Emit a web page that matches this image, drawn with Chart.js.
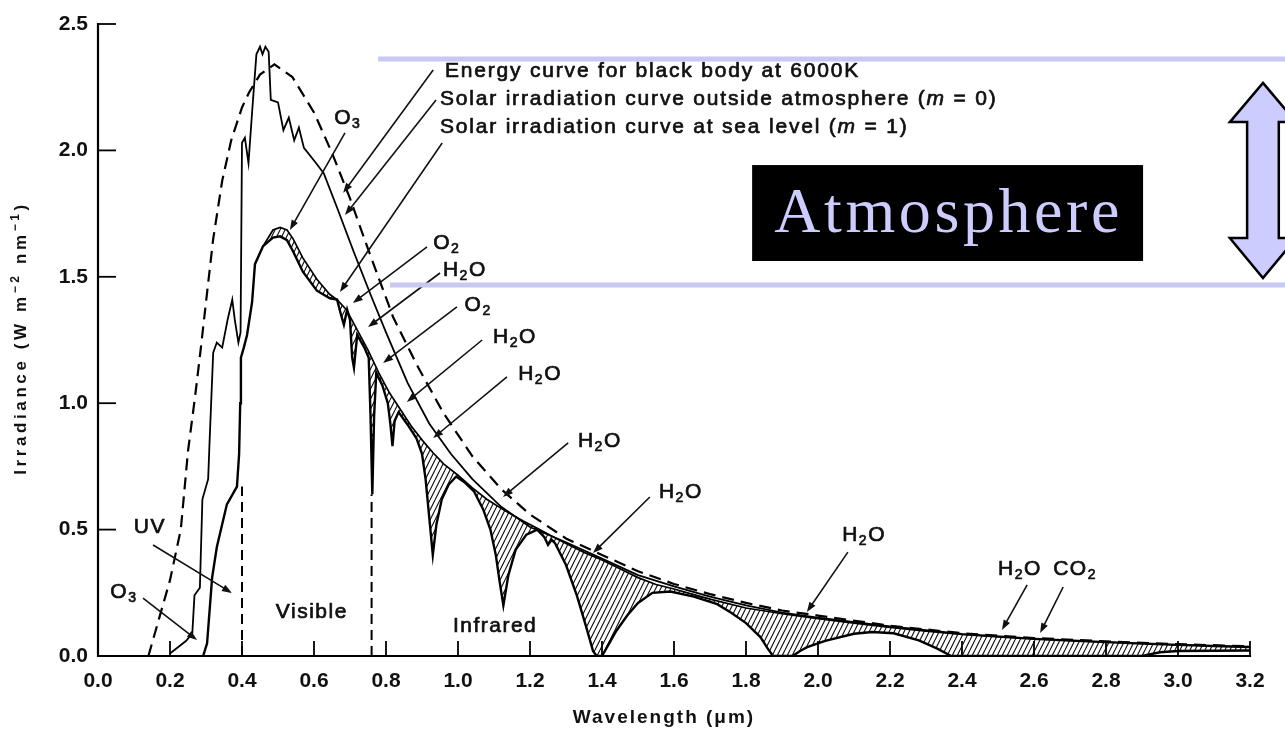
<!DOCTYPE html>
<html><head><meta charset="utf-8">
<script src="https://cdn.jsdelivr.net/npm/chart.js@4.4.1/dist/chart.umd.min.js"></script>
<style>html,body{margin:0;padding:0;background:#fff;}canvas{display:block;}</style>
</head><body>
<canvas id="c" width="1285" height="733"></canvas>
<script>
// ---------------- data ----------------
const blackBodyX = [0.14,0.17,0.20,0.23,0.25,0.27,0.285,0.30,0.32,0.345,0.37,0.40,0.42,0.45,0.49,0.54,0.60,0.65,0.70,0.75,0.82,0.89,0.96,1.04,1.12,1.20,1.30,1.40,1.50,1.60,1.70,1.80,1.90,2.00,2.20,2.40,2.60,2.80,3.00,3.20];
const blackBodyY = [0.00,0.15,0.30,0.50,0.81,1.03,1.21,1.40,1.65,1.88,2.04,2.17,2.23,2.30,2.34,2.29,2.15,1.99,1.81,1.61,1.34,1.14,0.96,0.79,0.66,0.56,0.465,0.40,0.335,0.285,0.245,0.21,0.18,0.16,0.12,0.09,0.071,0.058,0.047,0.038];

const outsideX = [0.20,0.245,0.262,0.268,0.283,0.29,0.30,0.306,0.31,0.32,0.33,0.345,0.36,0.373,0.38,0.39,0.396,0.40,0.408,0.418,0.428,0.44,0.45,0.457,0.465,0.474,0.48,0.50,0.515,0.53,0.545,0.558,0.572,0.60,0.627,0.665,0.71,0.757,0.80,0.86,0.92,0.98,1.04,1.12,1.20,1.30,1.40,1.50,1.60,1.70,1.80,1.90,2.00,2.20,2.40,2.60,2.80,3.00,3.20];
const outsideY = [0.01,0.06,0.09,0.24,0.27,0.62,0.67,0.70,0.85,1.20,1.24,1.22,1.33,1.41,1.33,1.24,1.28,2.03,2.05,1.95,2.15,2.38,2.41,2.38,2.41,2.39,2.20,2.19,2.08,2.13,2.04,2.09,2.01,1.96,1.91,1.77,1.60,1.43,1.28,1.08,0.92,0.80,0.70,0.59,0.51,0.45,0.385,0.32,0.275,0.235,0.20,0.172,0.152,0.117,0.087,0.069,0.056,0.045,0.037];

const seaLevelX = [0.292,0.303,0.317,0.33,0.358,0.386,0.392,0.395,0.397,0.405,0.414,0.428,0.436,0.458,0.486,0.506,0.525,0.542,0.569,0.608,0.644,0.664,0.675,0.683,0.692,0.70,0.706,0.711,0.72,0.74,0.752,0.757,0.762,0.767,0.773,0.79,0.805,0.812,0.818,0.824,0.835,0.86,0.885,0.90,0.91,0.92,0.93,0.94,0.955,0.975,0.995,1.02,1.045,1.07,1.09,1.105,1.115,1.126,1.14,1.16,1.19,1.22,1.24,1.25,1.26,1.27,1.30,1.33,1.355,1.375,1.385,1.40,1.42,1.44,1.47,1.50,1.54,1.59,1.655,1.72,1.76,1.80,1.84,1.86,1.875,1.93,1.95,1.97,2.02,2.10,2.15,2.21,2.28,2.33,2.37,2.90,2.95,3.00,3.20];
const seaLevelY = [0,0.05,0.31,0.43,0.60,0.67,0.80,1.0,1.18,1.22,1.27,1.40,1.55,1.62,1.655,1.66,1.645,1.60,1.52,1.445,1.415,1.41,1.35,1.31,1.37,1.33,1.18,1.14,1.27,1.22,1.18,0.95,0.64,0.95,1.12,1.07,1.00,0.92,0.83,0.93,0.965,0.915,0.86,0.80,0.70,0.55,0.40,0.52,0.62,0.68,0.71,0.685,0.65,0.58,0.50,0.40,0.30,0.20,0.32,0.42,0.48,0.50,0.47,0.44,0.46,0.445,0.36,0.24,0.12,0.02,0,0,0.05,0.10,0.16,0.21,0.25,0.255,0.235,0.205,0.17,0.13,0.075,0.03,0,0,0.02,0.035,0.06,0.088,0.095,0.09,0.062,0.03,0,0,0.015,0.02,0.022];

// sea-level curve without gas absorption (upper edge of the hatched absorption bands)
const clearSkyX = [0.458,0.486,0.506,0.525,0.542,0.569,0.608,0.644,0.664,0.69,0.72,0.75,0.78,0.81,0.84,0.87,0.90,0.93,0.96,1.00,1.04,1.08,1.13,1.18,1.22,1.26,1.30,1.35,1.40,1.45,1.50,1.55,1.60,1.65,1.70,1.80,1.90,2.00,2.10,2.20,2.30,2.40,2.50,2.60,2.70,2.80,2.90,3.00,3.10,3.20];
const clearSkyY = [1.62,1.685,1.695,1.685,1.65,1.575,1.49,1.43,1.41,1.37,1.29,1.21,1.12,1.04,0.975,0.91,0.855,0.805,0.76,0.715,0.665,0.62,0.575,0.535,0.505,0.475,0.445,0.41,0.38,0.345,0.31,0.283,0.265,0.245,0.225,0.19,0.167,0.148,0.13,0.113,0.098,0.085,0.076,0.067,0.06,0.054,0.048,0.043,0.038,0.034];

const bandEdgeX = [0.40, 0.76];
const bandEdgeTop = [0.67, 0.64];

const xTickValues = [0,0.2,0.4,0.6,0.8,1.0,1.2,1.4,1.6,1.8,2.0,2.2,2.4,2.6,2.8,3.0,3.2];
const xTickLabels = ['0.0','0.2','0.4','0.6','0.8','1.0','1.2','1.4','1.6','1.8','2.0','2.2','2.4','2.6','2.8','3.0','3.2'];
const yTickValues = [0,0.5,1.0,1.5,2.0,2.5];
const yTickLabels = ['0.0','0.5','1.0','1.5','2.0','2.5'];

const xTitle = 'Wavelength (\u03bcm)';
const yTitle = 'Irradiance (W m^{\u22122} nm^{\u22121})';

// annotation texts (data coordinates) and leader arrows [fromX, fromY, toX, toY]
const noteLabels = [
  {t:'Energy curve for black body at 6000K', x:0.964, y:2.314, a:'left', ls:1.8},
  {t:'Solar irradiation curve outside atmosphere (|m| = 0)', x:0.950, y:2.203, a:'left', ls:1.8},
  {t:'Solar irradiation curve at sea level (|m| = 1)', x:0.950, y:2.092, a:'left', ls:1.8},
  {t:'O_3', x:0.694, y:2.128},
  {t:'O_2', x:0.969, y:1.634},
  {t:'H_2O', x:1.019, y:1.527},
  {t:'O_2', x:1.056, y:1.388},
  {t:'H_2O', x:1.158, y:1.262},
  {t:'H_2O', x:1.228, y:1.116},
  {t:'H_2O', x:1.394, y:0.850},
  {t:'H_2O', x:1.619, y:0.649},
  {t:'H_2O', x:2.128, y:0.479},
  {t:'H_2O', x:2.561, y:0.344},
  {t:'CO_2', x:2.714, y:0.344},
  {t:'UV', x:0.144, y:0.510},
  {t:'O_3', x:0.072, y:0.253},
  {t:'Visible', x:0.594, y:0.174},
  {t:'Infrared', x:1.103, y:0.119}
];
const noteLeaders = [
  [0.931,2.318,0.681,1.832],
  [0.939,2.199,0.686,1.744],
  [0.956,2.029,0.672,1.440],
  [0.686,2.069,0.533,1.685],
  [0.914,1.618,0.708,1.396],
  [0.950,1.515,0.750,1.301],
  [0.997,1.381,0.792,1.159],
  [1.067,1.250,0.858,1.005],
  [1.136,1.104,0.931,0.862],
  [1.306,0.843,1.125,0.629],
  [1.533,0.629,1.375,0.407],
  [2.083,0.411,1.969,0.174],
  [2.581,0.281,2.511,0.103],
  [2.681,0.273,2.617,0.091],
  [0.153,0.439,0.372,0.249],
  [0.125,0.229,0.275,0.063]
];
const atmosphere = {
  text:'Atmosphere',
  topY:2.362, topX0:0.778, botY:1.468, botX0:0.811, x1:3.45,
  box:[1.817,1.942,2.903,1.5625],
  arrow:{cx:3.236, tipTop:2.267, baseTop:2.112, baseBot:1.653, tipBot:1.495, hw:0.092, sw:0.044}
};

// ---------------- helpers ----------------
const SANS = "'Liberation Sans', Arial, sans-serif";
const canvas = document.getElementById('c');
const ctx0 = canvas.getContext('2d');
function makeHatch(){
  const t = document.createElement('canvas'); t.width = 5; t.height = 10;
  const g = t.getContext('2d');
  g.strokeStyle = '#111'; g.lineWidth = 1.15; g.beginPath();
  for (let k = -1; k <= 1; k++){ g.moveTo(5*k, 10); g.lineTo(5*k+5, 0); }
  g.stroke();
  return ctx0.createPattern(t, 'repeat');
}
const hatch = makeHatch();
const pts = (xs, ys) => xs.map((x, i) => ({x, y: ys[i]}));

function parseRich(s){
  const segs = []; let buf = '', i = 0;
  const flush = () => { if (buf) segs.push({t:buf, k:'n'}); buf = ''; };
  while (i < s.length){
    const c = s[i];
    if (c === '_'){ flush(); segs.push({t:s[i+1], k:'sub'}); i += 2; }
    else if (c === '^'){ flush(); const j = s.indexOf('}', i); segs.push({t:s.slice(i+2, j), k:'sup'}); i = j+1; }
    else if (c === '|'){ flush(); const j = s.indexOf('|', i+1); segs.push({t:s.slice(i+1, j), k:'it'}); i = j+1; }
    else { buf += c; i++; }
  }
  flush(); return segs;
}
function segFont(k, o){
  const w = o.weight || 'normal';
  if (k === 'sub' || k === 'sup') return `${w} ${Math.round(o.size*0.68)}px ${o.family}`;
  if (k === 'it') return `italic ${w} ${o.size}px ${o.family}`;
  return `${w} ${o.size}px ${o.family}`;
}
function drawRich(ctx, s, x, y, o){
  const segs = parseRich(s);
  ctx.save();
  try { ctx.letterSpacing = (o.ls || 0) + 'px'; } catch(e){}
  ctx.fillStyle = o.color || '#111';
  ctx.strokeStyle = o.color || '#111';
  ctx.lineWidth = o.embolden || 0;
  ctx.lineJoin = 'round';
  ctx.textBaseline = 'middle'; ctx.textAlign = 'left';
  let w = 0;
  segs.forEach(g => { ctx.font = segFont(g.k, o); g.w = ctx.measureText(g.t).width; w += g.w; });
  let cx = o.align === 'center' ? x - w/2 : x;
  segs.forEach(g => {
    ctx.font = segFont(g.k, o);
    const dy = g.k === 'sub' ? o.size*0.3 : (g.k === 'sup' ? -o.size*0.33 : 0);
    ctx.fillText(g.t, cx, y + dy);
    if (o.embolden) ctx.strokeText(g.t, cx, y + dy);
    cx += g.w;
  });
  ctx.restore();
}
function arrow(ctx, x1, y1, x2, y2){
  const a = Math.atan2(y2-y1, x2-x1), L = 10, W = 3.6;
  ctx.beginPath(); ctx.moveTo(x1, y1); ctx.lineTo(x2 - Math.cos(a)*L*0.6, y2 - Math.sin(a)*L*0.6); ctx.stroke();
  ctx.beginPath();
  ctx.moveTo(x2, y2);
  ctx.lineTo(x2 - Math.cos(a)*L - Math.sin(a)*W, y2 - Math.sin(a)*L + Math.cos(a)*W);
  ctx.lineTo(x2 - Math.cos(a)*L + Math.sin(a)*W, y2 - Math.sin(a)*L - Math.cos(a)*W);
  ctx.closePath(); ctx.fill();
}

// ---------------- decoration plugin ----------------
const decor = {
  id:'decor',
  afterDatasetsDraw(chart){
    const ctx = chart.ctx, xs = chart.scales.x, ys = chart.scales.y;
    const {left, right, top, bottom} = chart.chartArea;
    const X = v => xs.getPixelForValue(v), Y = v => ys.getPixelForValue(v);
    ctx.save();
    // axes with inside ticks
    ctx.strokeStyle = '#000'; ctx.lineWidth = 2.2; ctx.lineCap = 'square';
    ctx.beginPath(); ctx.moveTo(left, top); ctx.lineTo(left, bottom); ctx.lineTo(right, bottom); ctx.stroke();
    ctx.lineWidth = 1.8; ctx.lineCap = 'butt';
    yTickValues.forEach(v => { if (v === 0) return; const y = Y(v); ctx.beginPath(); ctx.moveTo(left, y); ctx.lineTo(left + 18, y); ctx.stroke(); });
    xTickValues.forEach(v => { if (v === 0) return; const x = X(v); ctx.beginPath(); ctx.moveTo(x, bottom); ctx.lineTo(x, bottom - 15); ctx.stroke(); });
    // leaders
    ctx.strokeStyle = '#111'; ctx.fillStyle = '#111'; ctx.lineWidth = 1.6;
    noteLeaders.forEach(l => arrow(ctx, X(l[0]), Y(l[1]), X(l[2]), Y(l[3])));
    // labels
    noteLabels.forEach(n => drawRich(ctx, n.t, X(n.x), Y(n.y), {size:21, family:SANS, weight:'normal', align:n.a || 'center', ls:n.ls != null ? n.ls : 1.5, embolden:0.7}));
    // axis titles
    drawRich(ctx, xTitle, (left + right)/2 - 10, 718, {size:19, family:SANS, weight:'bold', align:'center', ls:2});
    ctx.save(); ctx.translate(21, (top + bottom)/2 - 2); ctx.rotate(-Math.PI/2);
    drawRich(ctx, yTitle, 0, 0, {size:17, family:SANS, weight:'bold', align:'center', ls:3.6});
    ctx.restore();
    ctx.restore();
  },
  afterDraw(chart){
    const ctx = chart.ctx, xs = chart.scales.x, ys = chart.scales.y;
    const X = v => xs.getPixelForValue(v), Y = v => ys.getPixelForValue(v);
    const A = atmosphere;
    ctx.save();
    ctx.strokeStyle = '#c8c8f2'; ctx.lineWidth = 5;
    ctx.beginPath(); ctx.moveTo(X(A.topX0), Y(A.topY)); ctx.lineTo(X(A.x1), Y(A.topY)); ctx.stroke();
    ctx.beginPath(); ctx.moveTo(X(A.botX0), Y(A.botY)); ctx.lineTo(X(A.x1), Y(A.botY)); ctx.stroke();
    const b = A.box;
    ctx.fillStyle = '#000';
    ctx.fillRect(X(b[0]), Y(b[1]), X(b[2]) - X(b[0]), Y(b[3]) - Y(b[1]));
    drawRich(ctx, A.text, (X(b[0]) + X(b[2]))/2 + 1, (Y(b[1]) + Y(b[3]))/2 + 2, {size:64, family:"'Liberation Serif', 'Times New Roman', serif", weight:'normal', align:'center', ls:3.6, color:'#ccccff'});
    const r = A.arrow;
    const P = [[r.cx, r.tipTop],[r.cx + r.hw, r.baseTop],[r.cx + r.sw, r.baseTop],[r.cx + r.sw, r.baseBot],[r.cx + r.hw, r.baseBot],[r.cx, r.tipBot],[r.cx - r.hw, r.baseBot],[r.cx - r.sw, r.baseBot],[r.cx - r.sw, r.baseTop],[r.cx - r.hw, r.baseTop]];
    ctx.beginPath();
    P.forEach((p, i) => { const px = X(p[0]), py = Y(p[1]); if (i) ctx.lineTo(px, py); else ctx.moveTo(px, py); });
    ctx.closePath();
    ctx.fillStyle = '#ccccff'; ctx.fill();
    ctx.strokeStyle = '#000'; ctx.lineWidth = 2.5; ctx.lineJoin = 'miter'; ctx.stroke();
    ctx.restore();
  }
};

const tickFont = {family:SANS, size:21, weight:'bold'};
const lineBase = {borderColor:'#000', pointRadius:0, tension:0, fill:false};
new Chart(canvas, {
  type:'line',
  data:{datasets:[
    Object.assign({label:'Energy curve for black body at 6000K', data:pts(blackBodyX, blackBodyY), borderWidth:2.2, borderDash:[12,7]}, lineBase),
    Object.assign({label:'Solar irradiation curve outside atmosphere (m = 0)', data:pts(outsideX, outsideY), borderWidth:1.8}, lineBase),
    Object.assign({label:'Solar irradiation curve at sea level (m = 1)', data:pts(seaLevelX, seaLevelY), borderWidth:2.4}, lineBase),
    Object.assign({}, lineBase, {label:'Sea level without absorption', data:pts(clearSkyX, clearSkyY), borderWidth:1.7, fill:{target:2, above:hatch, below:'rgba(0,0,0,0)'}}),
    ...bandEdgeX.map((x, i) => Object.assign({label:'band edge', data:[{x, y:0}, {x, y:bandEdgeTop[i]}], borderWidth:2, borderDash:[10,6]}, lineBase))
  ]},
  options:{
    responsive:false, animation:false, devicePixelRatio:1,
    layout:{padding:{top:24, right:35, bottom:0, left:0}},
    plugins:{legend:{display:false}, tooltip:{enabled:false}},
    scales:{
      x:{type:'linear', min:0, max:3.2,
        grid:{display:false, drawTicks:false}, border:{display:false},
        afterBuildTicks:s => { s.ticks = xTickValues.map(v => ({value:v})); },
        afterFit:s => { s.height = 77; },
        ticks:{autoSkip:false, maxRotation:0, padding:13, color:'#111', font:tickFont, callback:(v, i) => xTickLabels[i]}},
      y:{type:'linear', min:0, max:2.5,
        grid:{display:false, drawTicks:false}, border:{display:false},
        afterBuildTicks:s => { s.ticks = yTickValues.map(v => ({value:v})); },
        afterFit:s => { s.width = 98; },
        ticks:{padding:10, color:'#111', font:tickFont, callback:(v, i) => yTickLabels[i]}}
    }
  },
  plugins:[decor]
});
</script>
</body></html>
